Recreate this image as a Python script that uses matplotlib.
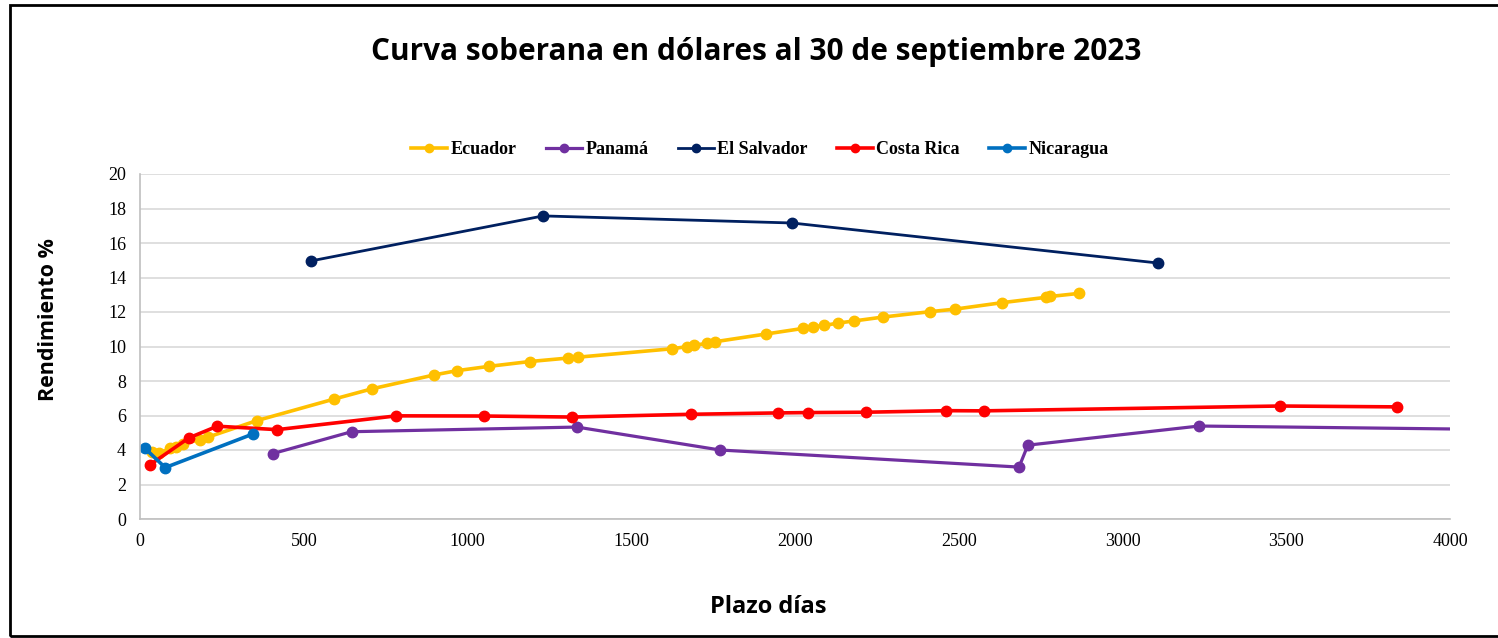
import matplotlib
matplotlib.use("Agg")
import matplotlib.pyplot as plt
from matplotlib.patches import Rectangle

# datos (plazo en dias, rendimiento %)
ecuador_x = [36, 58, 92, 110, 130, 183, 208, 356, 592, 709, 898, 968, 1066, 1191, 1307, 1337,
             1625, 1669, 1692, 1730, 1757, 1910, 2025, 2056, 2090, 2132, 2180, 2270, 2413, 2490,
             2632, 2766, 2779, 2868]
ecuador_y = [3.9, 3.8, 4.1, 4.2, 4.35, 4.6, 4.75, 5.7, 6.95, 7.55, 8.35, 8.6, 8.85, 9.13, 9.33, 9.38,
             9.87, 9.99, 10.07, 10.18, 10.28, 10.72, 11.05, 11.15, 11.22, 11.36, 11.48, 11.71, 12.02, 12.17,
             12.54, 12.85, 12.9, 13.08]

panama_x = [405, 646, 1334, 1771, 2684, 2711, 3234, 4500]
panama_y = [3.79, 5.06, 5.33, 4.0, 3.01, 4.28, 5.39, 5.11]

salvador_x = [522, 1231, 1991, 3108]
salvador_y = [14.96, 17.57, 17.16, 14.84]

costa_x = [31, 149, 236, 419, 783, 1050, 1319, 1681, 1949, 2041, 2218, 2461, 2578, 3480, 3838]
costa_y = [3.15, 4.7, 5.38, 5.18, 5.98, 5.97, 5.91, 6.07, 6.15, 6.17, 6.19, 6.28, 6.27, 6.55, 6.5]

nica_x = [15, 77, 345]
nica_y = [4.1, 2.98, 4.93]

series = [
    ("Ecuador", ecuador_x, ecuador_y, "#FFC000", 2.6),
    ("Panamá", panama_x, panama_y, "#7030A0", 2.3),
    ("El Salvador", salvador_x, salvador_y, "#002060", 2.0),
    ("Costa Rica", costa_x, costa_y, "#FF0000", 2.6),
    ("Nicaragua", nica_x, nica_y, "#0070C0", 2.6),
]

W, H = 1498, 638
fig = plt.figure(figsize=(W / 100, H / 100), dpi=100)
ax = fig.add_axes([140 / W, 1 - 519 / H, (1450 - 140) / W, (519 - 174) / H])

for name, xs, ys, color, lw in series:
    ax.plot(xs, ys, color=color, lw=lw, marker="o", ms=7.5, label=name)

ax.set_xlim(0, 4000)
ax.set_ylim(0, 20)
ax.set_xticks(range(0, 4001, 500))
ax.set_yticks(range(0, 21, 2))
ax.grid(axis="y", color="#D9D9D9", lw=1.2)
ax.set_axisbelow(True)
for s in ["top", "right"]:
    ax.spines[s].set_visible(False)
for s in ["left", "bottom"]:
    ax.spines[s].set_color("#BFBFBF")
    ax.spines[s].set_linewidth(1.2)
ax.tick_params(length=0, labelsize=13, pad=10)
for lab in ax.get_xticklabels() + ax.get_yticklabels():
    lab.set_fontfamily("Liberation Serif")

fig.text(756 / W, 1 - 52 / H, "Curva soberana en dólares al 30 de septiembre 2023",
         ha="center", va="center", fontsize=21.4, fontweight="bold", family="Open Sans")
fig.text(768 / W, 1 - 607 / H, "Plazo días", ha="center", va="center",
         fontsize=17, fontweight="bold", family="Open Sans")
fig.text(48 / W, 1 - 320 / H, "Rendimiento %", ha="center", va="center", rotation=90,
         fontsize=15.5, fontweight="bold", family="Open Sans")

leg = fig.legend(loc="center", bbox_to_anchor=(760 / W, 1 - 150 / H), ncol=5, frameon=False,
                 prop={"family": "Liberation Serif", "weight": "bold", "size": 13},
                 handlelength=2.0, handletextpad=0.2, columnspacing=1.6, markerscale=0.8)

# marco negro
fig.patches.append(Rectangle((10 / W, 2 / H), 1.2, 1 - 7 / H, transform=fig.transFigure,
                             fill=False, edgecolor="black", lw=2, clip_on=False))

fig.savefig("out.png", dpi=100)
